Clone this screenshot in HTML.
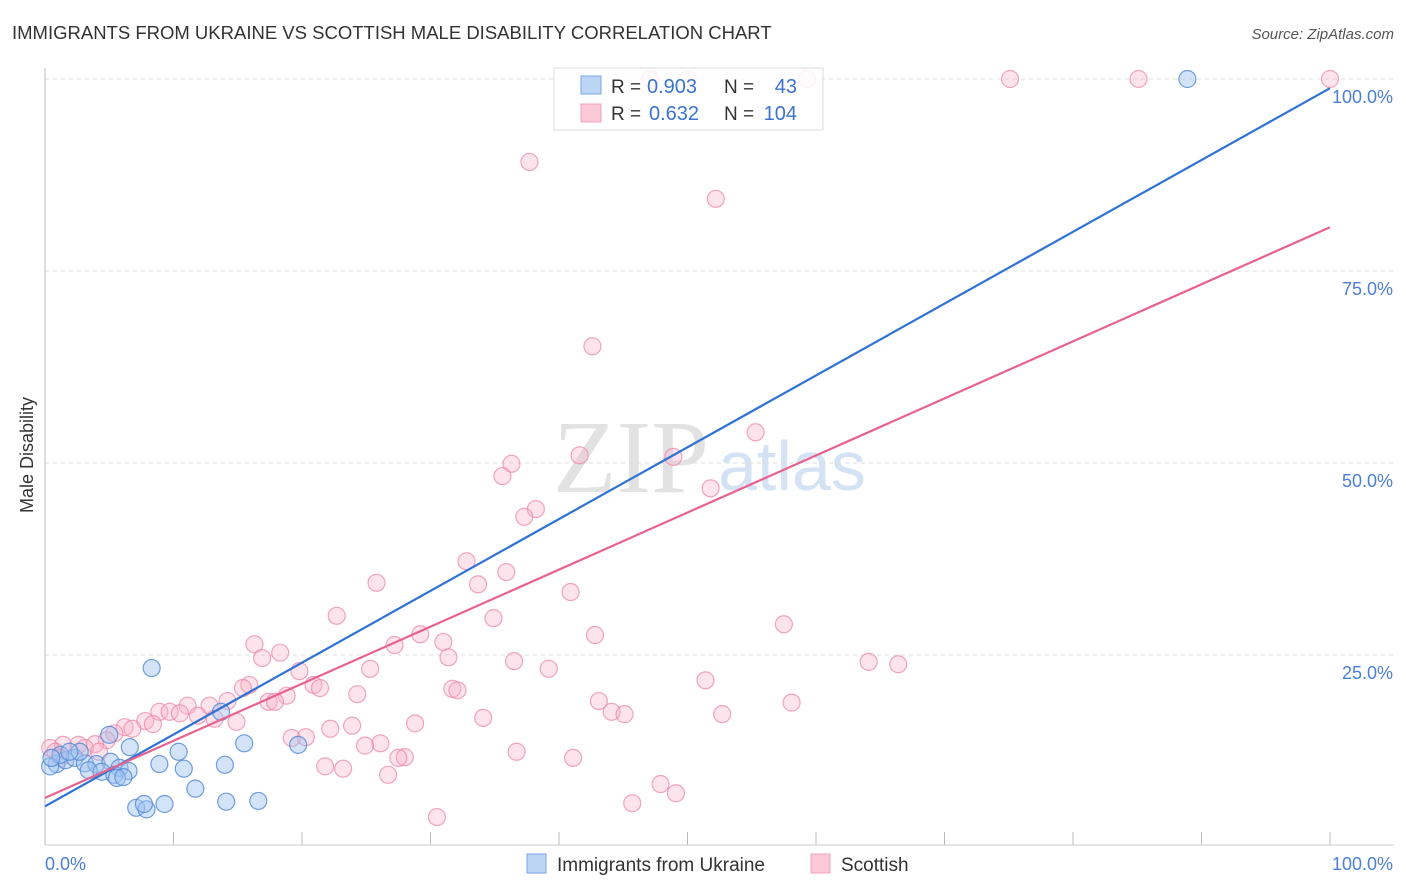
<!DOCTYPE html>
<html><head><meta charset="utf-8">
<style>
body{margin:0;background:#fff;font-family:"Liberation Sans",sans-serif;}
svg{display:block}
</style></head>
<body>
<svg id="chart" width="1406" height="892">
<text x="12" y="39" font-size="18.5" fill="#333">IMMIGRANTS FROM UKRAINE VS SCOTTISH MALE DISABILITY CORRELATION CHART</text>
<text x="1394" y="39" font-size="15" fill="#555" font-style="italic" text-anchor="end">Source: ZipAtlas.com</text>
<text x="553" y="492" font-size="104" fill="#e2e2e2" font-family="Liberation Serif,serif">ZIP</text>
<text x="718" y="490" font-size="70" fill="#d4e3f4">atlas</text>
<g id="grid"></g>
<line x1="45" y1="68" x2="45" y2="845" stroke="#bbb"/>
<line x1="45" y1="845" x2="1394" y2="845" stroke="#ccc"/>
<text x="33" y="455" font-size="18" fill="#333" transform="rotate(-90 33 455)" text-anchor="middle">Male Disability</text>
<text x="45" y="870" font-size="18" fill="#4a7fd4">0.0%</text>
<text x="1393" y="870" font-size="18" fill="#4a7fd4" text-anchor="end">100.0%</text>
<g id="pts"></g>
<g id="lines"></g>
<g>
<rect x="554" y="68" width="269" height="62" fill="rgba(255,255,255,0.85)" stroke="#ddd"/>
<rect x="581" y="76" width="20" height="18" fill="#bcd5f5" stroke="#7aa6e6"/>
<rect x="581" y="104" width="20" height="18" fill="#fcc9d8" stroke="#f1a3bb"/>
<text x="611" y="93" font-size="19" fill="#333">R =</text>
<text x="647" y="93" font-size="20" fill="#3b73d0">0.903</text>
<text x="724" y="93" font-size="19" fill="#333">N =</text>
<text x="797" y="93" font-size="20" fill="#3b73d0" text-anchor="end">43</text>
<text x="611" y="120" font-size="19" fill="#333">R =</text>
<text x="649" y="120" font-size="20" fill="#3b73d0">0.632</text>
<text x="724" y="120" font-size="19" fill="#333">N =</text>
<text x="797" y="120" font-size="20" fill="#3b73d0" text-anchor="end">104</text>
</g>
<g>
<rect x="527" y="854" width="19" height="19" fill="#bcd5f5" stroke="#7aa6e6"/>
<text x="557" y="871" font-size="19" fill="#333">Immigrants from Ukraine</text>
<rect x="811" y="854" width="19" height="19" fill="#fcc9d8" stroke="#f1a3bb"/>
<text x="841" y="871" font-size="19" fill="#333">Scottish</text>
</g>
</svg>
<script>
const yTicks=[25,50,75,100];
const yTickLabels=["25.0%","50.0%","75.0%","100.0%"];
const xTicks=[10,20,30,40,50,60,70,80,90,100];
const blueX=[88.9,8.3,5.0,10.4,15.5,19.7,13.7,0.9,1.6,2.3,3.1,0.4,4.0,5.1,5.8,6.5,3.4,4.4,5.4,1.2,2.7,1.9,8.9,10.8,14.0,5.6,6.1,11.7,7.1,7.9,7.7,9.3,14.1,16.6,6.6,0.5];
const blueY=[100,23.3,14.6,12.4,13.5,13.3,17.6,10.8,11.3,11.6,10.9,10.5,10.8,11.1,10.3,9.9,10.0,9.8,9.4,12.0,12.4,12.4,10.8,10.2,10.7,9.0,9.1,7.6,5.1,4.9,5.6,5.6,5.9,6.0,13.0,11.6];
const pinkX=[37.7,52.2,42.6,55.3,41.6,48.9,36.3,35.6,51.8,38.2,37.3,32.8,35.9,33.7,25.8,40.9,22.7,34.9,29.2,42.8,57.5,31.0,27.2,16.3,18.3,16.9,31.4,36.5,39.2,64.1,66.4,19.8,25.3,51.4,15.9,20.9,21.4,31.7,32.1,15.4,24.3,18.8,43.1,14.2,17.4,17.9,58.1,11.1,12.8,44.1,45.1,52.7,8.9,9.7,10.5,11.9,13.2,34.1,7.8,8.4,14.9,28.8,23.9,6.2,6.8,22.2,5.4,19.2,20.3,26.1,24.9,4.8,3.9,2.6,1.4,0.4,0.8,3.1,4.2,36.7,28.0,27.5,41.1,21.8,23.2,26.7,47.9,49.1,45.7,30.5,1.2,59.3,75.1,85.1,100,47.1,50.0];
const pinkY=[89.2,84.4,65.2,54.0,51.0,50.8,49.9,48.3,46.7,44.0,43.0,37.2,35.8,34.2,34.4,33.2,30.1,29.8,27.7,27.6,29.0,26.7,26.3,26.4,25.3,24.6,24.7,24.2,23.2,24.1,23.8,22.9,23.2,21.7,21.1,21.1,20.7,20.6,20.4,20.7,19.9,19.7,19.0,19.0,18.9,18.9,18.8,18.4,18.4,17.6,17.3,17.3,17.6,17.6,17.4,17.1,16.7,16.8,16.4,16.0,16.3,16.1,15.8,15.6,15.4,15.4,14.8,14.2,14.3,13.5,13.2,13.9,13.4,13.3,13.3,12.9,12.4,12.9,12.4,12.4,11.7,11.6,11.6,10.5,10.2,9.4,8.2,7.0,5.7,3.9,11.6,100,100,100,100,100,100];
const blueLine=[5.3,98.8];
const pinkLine=[6.4,80.7];
const X=v=>45+v*12.85, Y=v=>847-v*7.68;
const NS="http://www.w3.org/2000/svg";
function mk(t,a,p){const e=document.createElementNS(NS,t);for(const k in a)e.setAttribute(k,a[k]);p.appendChild(e);return e;}
const grid=document.getElementById('grid');
yTicks.forEach((t,i)=>{
 const l=mk('line',{x1:45,x2:1394,y1:Y(t),y2:Y(t),stroke:'#ddd','stroke-dasharray':'4 4'},grid);
 
 
 const tx=mk('text',{x:1393,y:Y(t)+24,'font-size':18,fill:'#4a7fd4','text-anchor':'end'},grid);
 tx.textContent=yTickLabels[i];
 
 
});
xTicks.forEach(t=>{
 const l=mk('line',{x1:X(t),x2:X(t),y1:832,y2:845,stroke:'#bbb'},grid);
 
 
});
const pts=document.getElementById('pts');
pinkX.forEach((v,i)=>{
 const c=mk('circle',{cx:X(v),cy:Y(pinkY[i]),r:8.5,fill:'rgba(248,175,198,0.35)',stroke:'rgba(235,130,165,0.7)','stroke-width':1.2},pts);
 
 
});
blueX.forEach((v,i)=>{
 const c=mk('circle',{cx:X(v),cy:Y(blueY[i]),r:8.5,fill:'rgba(160,196,240,0.45)',stroke:'rgba(80,135,215,0.8)','stroke-width':1.2},pts);
 
 
});
const lines=document.getElementById('lines');
const bl=mk('line',{x1:X(0),y1:Y(blueLine[0]),x2:X(100),y2:Y(blueLine[1]),stroke:'#2f72d6','stroke-width':2.2},lines);


const pl=mk('line',{x1:X(0),y1:Y(pinkLine[0]),x2:X(100),y2:Y(pinkLine[1]),stroke:'#e8628f','stroke-width':2.2},lines);


</script>
</body></html>
